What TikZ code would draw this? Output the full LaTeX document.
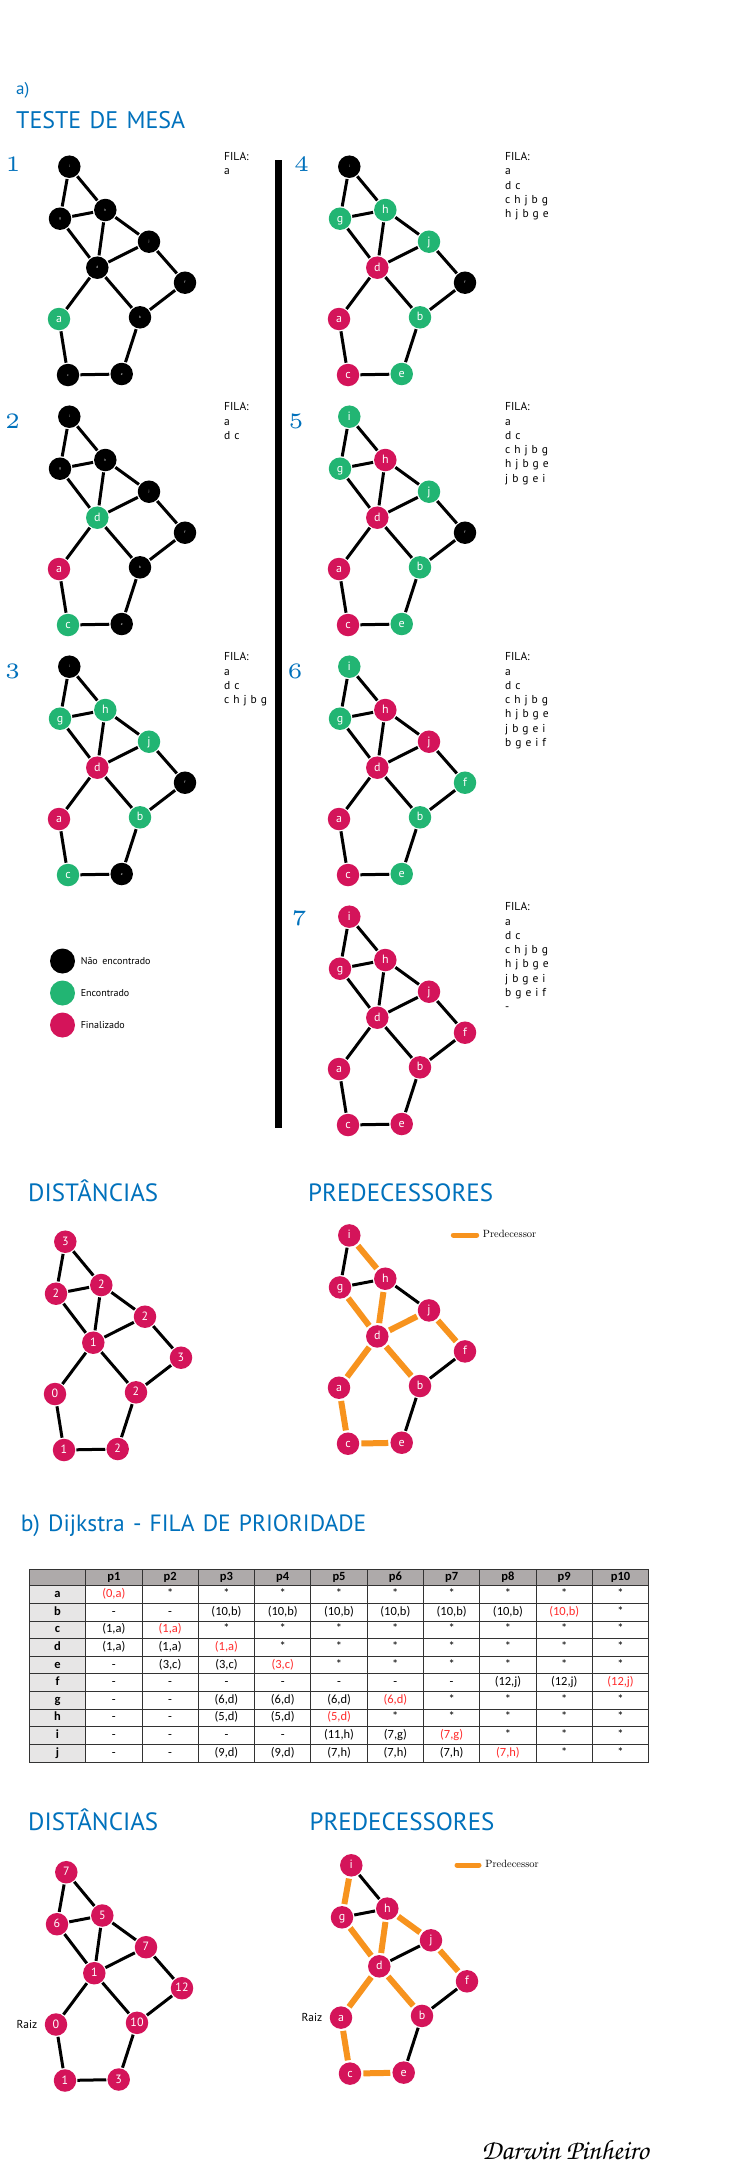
\documentclass[tikz,border=0pt]{standalone}
\usepackage{fontspec}
\newfontfamily\hsans{PT Sans}
\newfontfamily\filafont[WordSpace=1.3]{PT Sans}
\newfontfamily\tabfont{Carlito}
\newfontfamily\sigfont{TeX Gyre Chorus}
\newfontfamily\numfont{lmroman5-regular.otf}
\usetikzlibrary{calc}

\definecolor{hblue}{HTML}{0071BC}
\definecolor{ngreen}{HTML}{22B573}
\definecolor{nmag}{HTML}{D4145A}
\definecolor{porange}{HTML}{F7931E}
\definecolor{tred}{HTML}{FF2A2A}
\definecolor{thead}{HTML}{AEAAAA}
\definecolor{tside}{HTML}{E7E6E6}

% base layout of the ten vertices (i g h j d f a b c e)
\def\vvxi{69.3}\def\vvyi{166.7}
\def\vvxg{60}\def\vvyg{218.7}
\def\vvxh{105.3}\def\vvyh{210}
\def\vvxj{149}\def\vvyj{241.7}
\def\vvxd{97.3}\def\vvyd{267.7}
\def\vvxf{185}\def\vvyf{282.7}
\def\vvxa{59}\def\vvya{319}
\def\vvxb{140}\def\vvyb{317.3}
\def\vvxc{68}\def\vvyc{375}
\def\vvxe{121.7}\def\vvye{374}

% #1 prefix, #2 dx, #3 dy, #4 list name/style/label
\newcommand\netnodes[4]{%
  \foreach \n/\sty/\lab in {#4}{%
    \node[\sty] (#1\n) at ({\csname vvx\n\endcsname+#2},{\csname vvy\n\endcsname+#3}) {\lab};}}
% #1 prefix, #2 list u/v/style
\newcommand\netedges[2]{%
  \foreach \u/\v/\sty in {#2} \draw[\sty] (#1\u) -- (#1\v);}
\newcommand\stdedges[1]{%
  \netedges{#1}{i/g/edge,i/h/edge,g/h/edge,g/d/edge,h/d/edge,h/j/edge,j/d/edge,
    j/f/edge,d/a/edge,d/b/edge,f/b/edge,a/c/edge,b/e/edge,c/e/edge}}
% queue listing: #1 name, #2 x, #3 first baseline, #4 lines
\newcommand\filalist[4]{%
  \foreach \ftext [count=\k] in {#4}
    \node[filatext] (#1-\k) at (#2,{#3+14.3*(\k-1)}) {\ftext};}
\newcommand\redv[1]{\textcolor{tred}{#1}}

% priority queue rows
\def\tabrowa{{\redv{(0,a)}},*,*,*,*,*,*,*,*,*}
\def\tabrowb{-,-,{(10,b)},{(10,b)},{(10,b)},{(10,b)},{(10,b)},{(10,b)},{\redv{(10,b)}},*}
\def\tabrowc{{(1,a)},{\redv{(1,a)}},*,*,*,*,*,*,*,*}
\def\tabrowd{{(1,a)},{(1,a)},{\redv{(1,a)}},*,*,*,*,*,*,*}
\def\tabrowe{-,{(3,c)},{(3,c)},{\redv{(3,c)}},*,*,*,*,*,*}
\def\tabrowf{-,-,-,-,-,-,-,{(12,j)},{(12,j)},{\redv{(12,j)}}}
\def\tabrowg{-,-,{(6,d)},{(6,d)},{(6,d)},{\redv{(6,d)}},*,*,*,*}
\def\tabrowh{-,-,{(5,d)},{(5,d)},{\redv{(5,d)}},*,*,*,*,*}
\def\tabrowi{-,-,-,-,{(11,h)},{(7,g)},{\redv{(7,g)}},*,*,*}
\def\tabrowj{-,-,{(9,d)},{(9,d)},{(7,h)},{(7,h)},{(7,h)},{\redv{(7,h)}},*,*}

\begin{document}
\begin{tikzpicture}[x=1pt,y=-1pt,
  vtx/.style={circle,minimum size=22.5pt,inner sep=0pt,text=white,
    text height=7pt,text depth=0pt,font=\hsans\fontsize{12}{12}\selectfont},
  nb/.style={vtx,fill=black,text height=2pt,font=\hsans\fontsize{3.5}{3.5}\selectfont},
  ng/.style={vtx,fill=ngreen},
  nm/.style={vtx,fill=nmag},
  edge/.style={line width=3pt,black,shorten <=1pt,shorten >=1pt},
  pedge/.style={line width=6pt,porange,shorten <=2pt,shorten >=2pt},
  head/.style={anchor=base west,inner sep=0pt,text=hblue,font=\hsans\fontsize{25}{25}\selectfont},
  stepno/.style={anchor=base,inner sep=0pt,text=hblue,font=\numfont\fontsize{22}{22}\selectfont},
  filatext/.style={anchor=base west,inner sep=0pt,font=\filafont\fontsize{11.5}{12}\selectfont},
  legdot/.style={circle,minimum size=25pt,inner sep=0pt},
  legtext/.style={anchor=west,inner sep=0pt,font=\hsans\fontsize{10}{10}\selectfont},
  legline/.style={line width=5pt,porange,line cap=round},
  predtext/.style={anchor=west,inner sep=0pt,font=\fontsize{10.5}{11}\selectfont},
  raiz/.style={anchor=east,inner sep=0pt,font=\hsans\fontsize{11.5}{12}\selectfont},
  grid/.style={line width=0.9pt,black!80},
  tcell/.style={inner sep=0pt,text height=8.5pt,text depth=2.5pt,font=\tabfont\fontsize{12.5}{13}\selectfont},
  thd/.style={tcell,font=\tabfont\bfseries\fontsize{12.5}{13}\selectfont}]

\fill[white] (0,0) rectangle (731,2181);
\useasboundingbox (0,0) rectangle (731,2181);

% ---------- a) headings ----------
\node[head,font=\hsans\fontsize{17}{17}\selectfont] (ttl-a) at (16,95) {a)};
\node[head,font=\hsans\fontsize{24}{24}\selectfont] (ttl-mesa) at (16,128.3) {TESTE DE MESA};

% step numbers
\node[stepno] (no1) at (13,171.7) {1};
\node[stepno] (no2) at (12.5,428.3) {2};
\node[stepno] (no3) at (12.5,678.3) {3};
\node[stepno] (no4) at (301.7,171.7) {4};
\node[stepno] (no5) at (296,428.3) {5};
\node[stepno] (no6) at (295,678.3) {6};
\node[stepno] (no7) at (299,925) {7};

% separating bar
\fill[black] (275,160) rectangle (282,1128);

% ---------- step graphs ----------
\netnodes{A1-}{0}{0}{i/nb/i,g/nb/g,h/nb/h,j/nb/j,d/nb/d,f/nb/f,a/ng/a,b/nb/b,c/nb/c,e/nb/e}
\stdedges{A1-}
\netnodes{A2-}{0}{250}{i/nb/i,g/nb/g,h/nb/h,j/nb/j,d/ng/d,f/nb/f,a/nm/a,b/nb/b,c/ng/c,e/nb/e}
\stdedges{A2-}
\netnodes{A3-}{0}{500}{i/nb/i,g/ng/g,h/ng/h,j/ng/j,d/nm/d,f/nb/f,a/nm/a,b/ng/b,c/ng/c,e/nb/e}
\stdedges{A3-}
\netnodes{A4-}{280}{0}{i/nb/i,g/ng/g,h/ng/h,j/ng/j,d/nm/d,f/nb/f,a/nm/a,b/ng/b,c/nm/c,e/ng/e}
\stdedges{A4-}
\netnodes{A5-}{280}{250}{i/ng/i,g/ng/g,h/nm/h,j/ng/j,d/nm/d,f/nb/f,a/nm/a,b/ng/b,c/nm/c,e/ng/e}
\stdedges{A5-}
\netnodes{A6-}{280}{500}{i/ng/i,g/ng/g,h/nm/h,j/nm/j,d/nm/d,f/ng/f,a/nm/a,b/ng/b,c/nm/c,e/ng/e}
\stdedges{A6-}
\netnodes{A7-}{280}{750}{i/nm/i,g/nm/g,h/nm/h,j/nm/j,d/nm/d,f/nm/f,a/nm/a,b/nm/b,c/nm/c,e/nm/e}
\stdedges{A7-}

% queue contents
\filalist{F1}{224}{160.7}{FILA:,a}
\filalist{F2}{224}{410.7}{FILA:,a,d c}
\filalist{F3}{224}{660.7}{FILA:,a,d c,c h j b g}
\filalist{F4}{505}{160.7}{FILA:,a,d c,c h j b g,h j b g e}
\filalist{F5}{505}{410.7}{FILA:,a,d c,c h j b g,h j b g e,j b g e i}
\filalist{F6}{505}{660.7}{FILA:,a,d c,c h j b g,h j b g e,j b g e i,b g e i f}
\filalist{F7}{505}{910.7}{FILA:,a,d c,c h j b g,h j b g e,j b g e i,b g e i f,-}

% state legend
\node[legdot,fill=black] (leg-nb) at (62.5,961) {};
\node[legdot,fill=ngreen] (leg-ng) at (62.5,993) {};
\node[legdot,fill=nmag] (leg-nm) at (62.5,1025) {};
\node[legtext] (leg-nbt) at (80.6,961) {Não encontrado};
\node[legtext] (leg-ngt) at (80.6,993) {Encontrado};
\node[legtext] (leg-nmt) at (80.6,1025) {Finalizado};

% ---------- BFS distances and predecessors ----------
\node[head] (ttl-dist1) at (28,1201.7) {DISTÂNCIAS};
\node[head] (ttl-pred1) at (308,1201.7) {PREDECESSORES};
\netnodes{D1-}{-4}{1075}{i/nm/3,g/nm/2,h/nm/2,j/nm/2,d/nm/1,f/nm/3,a/nm/0,b/nm/2,c/nm/1,e/nm/2}
\stdedges{D1-}
\netnodes{P1-}{280}{1068.7}{i/nm/i,g/nm/g,h/nm/h,j/nm/j,d/nm/d,f/nm/f,a/nm/a,b/nm/b,c/nm/c,e/nm/e}
\netedges{P1-}{i/g/edge,g/h/edge,h/j/edge,f/b/edge,b/e/edge,
  i/h/pedge,g/d/pedge,h/d/pedge,j/d/pedge,j/f/pedge,d/a/pedge,d/b/pedge,a/c/pedge,c/e/pedge}
\coordinate (pl1a) at (453.3,1235);
\coordinate (pl1b) at (476.7,1235);
\draw[legline] (pl1a) -- (pl1b);
\node[predtext] (pl1t) at (482.7,1234) {Predecessor};

% ---------- b) Dijkstra ----------
\node[head,font=\hsans\fontsize{23.5}{24}\selectfont] (ttl-b) at (20.7,1531.6) {b) Dijkstra - FILA DE PRIORIDADE};

\fill[thead] (29.3,1569) rectangle (648.7,1585.7);
\fill[tside] (29.3,1585.7) rectangle (85.7,1762);
\draw[grid] (29.3,1569) -- (29.3,1762);
\foreach \k in {0,...,10} \draw[grid] ({85.7+56.3*\k},1569) -- ({85.7+56.3*\k},1762);
\draw[grid] (29.3,1569) -- (648.7,1569);
\foreach \r in {0,...,10} \draw[grid] (29.3,{1585.7+17.63*\r}) -- (648.7,{1585.7+17.63*\r});
\foreach \k in {1,...,10} \node[thd] (tab-p\k) at ({85.7+56.3*(\k-0.5)},1577.35) {p\k};
\foreach \r [count=\ri] in {a,...,j}{%
  \node[thd] (tab-\r) at (57.5,{1585.7+17.63*(\ri-0.5)}) {\r};
  \expandafter\let\expandafter\cur\csname tabrow\r\endcsname
  \foreach \c [count=\ci] in \cur
    \node[tcell] (tab-\r\ci) at ({85.7+56.3*(\ci-0.5)},{1585.7+17.63*(\ri-0.5)}) {\c};
}

\node[head] (ttl-dist2) at (28,1830.7) {DISTÂNCIAS};
\node[head] (ttl-pred2) at (309.4,1830.7) {PREDECESSORES};
\netnodes{D2-}{-3}{1705.5}{i/nm/7,g/nm/6,h/nm/5,j/nm/7,d/nm/1,f/nm/12,a/nm/0,b/nm/10,c/nm/1,e/nm/3}
\stdedges{D2-}
\node[raiz] (raiz-d) at ([xshift=-7pt]D2-a.west) {Raiz};
\netnodes{P2-}{282}{1698.6}{i/nm/i,g/nm/g,h/nm/h,j/nm/j,d/nm/d,f/nm/f,a/nm/a,b/nm/b,c/nm/c,e/nm/e}
\netedges{P2-}{i/h/edge,g/h/edge,j/d/edge,f/b/edge,b/e/edge,
  i/g/pedge,g/d/pedge,h/d/pedge,h/j/pedge,j/f/pedge,d/a/pedge,d/b/pedge,a/c/pedge,c/e/pedge}
\node[raiz] (raiz-p) at ([xshift=-7pt]P2-a.west) {Raiz};
\coordinate (pl2a) at (457,1865);
\coordinate (pl2b) at (479,1865);
\draw[legline] (pl2a) -- (pl2b);
\node[predtext] (pl2t) at (485.2,1864) {Predecessor};

% signature
\node[inner sep=0pt,font=\sigfont\fontsize{28}{28}\selectfont] (sig) at (565,2150) {Darwin Pinheiro};
\end{tikzpicture}
\end{document}
